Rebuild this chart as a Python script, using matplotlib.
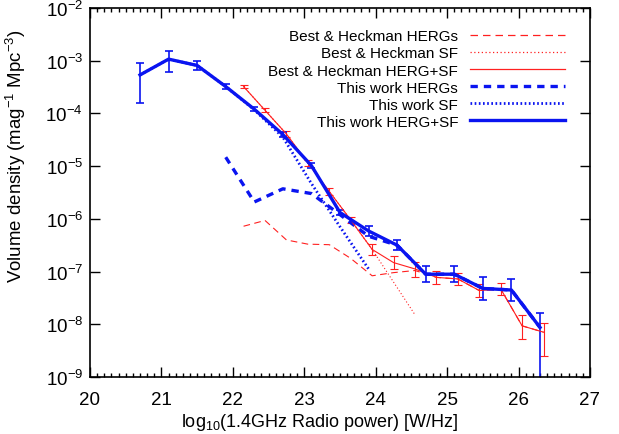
import numpy as np
import matplotlib
matplotlib.use("Agg")
import matplotlib.pyplot as plt
from matplotlib.lines import Line2D

plt.rcParams['font.family'] = ['Liberation Sans', 'DejaVu Sans']
plt.rcParams['mathtext.fontset'] = 'custom'
plt.rcParams['mathtext.rm'] = 'Liberation Sans'
plt.rcParams['mathtext.it'] = 'Liberation Sans'

# --- this work (log10 of density) ---
p_tw = [20.7, 21.1, 21.5, 21.9, 22.3, 22.7, 23.1, 23.5, 23.9, 24.3, 24.7, 25.1, 25.5, 25.9, 26.3]
tw_all = [-3.27, -2.97, -3.09, -3.49, -3.92, -4.40, -4.99, -5.88, -6.23, -6.50, -7.05, -7.05, -7.32, -7.35, -8.06]
tw_up = [0.22, 0.16, 0.09, 0.04, 0.04, 0.04, 0.05, 0.05, 0.10, 0.10, 0.15, 0.15, 0.21, 0.21, 0.27]
tw_dn = [0.54, 0.25, 0.09, 0.04, 0.04, 0.04, 0.05, 0.05, 0.10, 0.10, 0.15, 0.15, 0.21, 0.21, 5.0]

p_tw_herg = [21.9, 22.3, 22.7, 23.1, 23.5, 23.9, 24.3, 24.7, 25.1, 25.5, 25.9, 26.3]
tw_herg = [-4.83, -5.68, -5.43, -5.52, -5.92, -6.33, -6.50, -7.05, -7.05, -7.32, -7.35, -8.06]

p_tw_sf = [20.7, 21.1, 21.5, 21.9, 22.3, 22.7, 23.1, 23.5, 23.9]
tw_sf = [-3.27, -2.97, -3.09, -3.49, -3.93, -4.45, -5.33, -6.15, -6.95]

# --- Best & Heckman ---
p_bh = [22.15, 22.45, 22.75, 23.05, 23.35, 23.65, 23.95, 24.25, 24.55, 24.85, 25.15, 25.45, 25.75, 26.05, 26.35]
bh_all = [-3.49, -3.94, -4.39, -4.94, -5.48, -6.02, -6.58, -6.83, -6.95, -7.11, -7.14, -7.36, -7.33, -8.03, -8.15]
bh_up = [0.03, 0.04, 0.05, 0.05, 0.06, 0.06, 0.10, 0.12, 0.14, 0.12, 0.11, 0.12, 0.12, 0.20, 0.18]
bh_dn = [0.03, 0.04, 0.05, 0.05, 0.06, 0.06, 0.10, 0.13, 0.15, 0.12, 0.11, 0.12, 0.12, 0.24, 0.46]

bh_herg = [-6.14, -6.03, -6.40, -6.48, -6.49, -6.75, -7.08, -7.02, -6.98, -7.11, -7.14, -7.36, -7.33, -8.03, -8.15]

p_bh_sf = [22.15, 22.45, 22.75, 23.05, 23.35, 23.65, 23.95, 24.25, 24.55]
bh_sf = [-3.49, -3.94, -4.39, -4.94, -5.48, -6.02, -6.58, -7.20, -7.82]

labels = ['Best & Heckman HERGs', 'Best & Heckman SF', 'Best & Heckman HERG+SF',
          'This work HERGs', 'This work SF', 'This work HERG+SF']


def lin(logv):
    return 10.0 ** np.array(logv)


def errs(logv, up, dn):
    v = lin(logv)
    lo = v - 10.0 ** (np.array(logv) - np.array(dn))
    hi = 10.0 ** (np.array(logv) + np.array(up)) - v
    return [lo, hi]


fig = plt.figure(figsize=(6.19, 4.35), dpi=100)
ax = fig.add_axes([90 / 619, 1 - 378 / 435, 500 / 619, 369 / 435])

red = '#ff2020'
blue = '#0a14f0'

# line styles: (color, lw, dashes)
styles = [(red, 0.9, (6, 4)), (red, 0.9, (1, 2)), (red, 0.9, None),
          (blue, 2.4, (2.2, 1.8)), (blue, 2.0, (0.6, 0.9)), (blue, 2.4, None)]

ax.plot(p_bh, lin(bh_herg), color=red, lw=0.8, dashes=(6, 4))
ax.plot(p_bh_sf, lin(bh_sf), color=red, lw=0.8, dashes=(1, 2))
ax.errorbar(p_bh, lin(bh_all), yerr=errs(bh_all, bh_up, bh_dn), color=red, lw=0.8,
            elinewidth=0.8, capsize=3, capthick=0.8)

ax.plot(p_tw_herg, lin(tw_herg), color=blue, lw=2.4, dashes=(2.2, 1.8))
ax.plot(p_tw_sf, lin(tw_sf), color=blue, lw=2.0, dashes=(0.6, 0.9))
ax.errorbar(p_tw, lin(tw_all), yerr=errs(tw_all, tw_up, tw_dn), color=blue, lw=2.4,
            elinewidth=1.2, capsize=3, capthick=1.2)

ax.set_yscale('log')
ax.set_xlim(20, 27)
ax.set_ylim(1e-9, 1e-2)
ax.set_xticks(np.arange(20, 28, 1))
ax.set_xticks(np.arange(20, 27.01, 0.1), minor=True)
ax.set_yticks([10.0 ** k for k in range(-9, -1)])
ax.set_yticklabels([r'$10^{%d}$' % k for k in range(-9, -1)])
ax.yaxis.set_minor_locator(matplotlib.ticker.NullLocator())
ax.tick_params(which='both', direction='in', top=True, right=True, labelsize=13.5, width=1)
ax.tick_params(which='major', length=7)
ax.tick_params(which='minor', length=3)
ax.tick_params(axis='x', pad=10)
ax.tick_params(axis='y', pad=5)
for s in ax.spines.values():
    s.set_linewidth(1.2)

ax.set_xlabel(r'log$_{10}$(1.4GHz Radio power) [W/Hz]', fontsize=13)
ax.xaxis.set_label_coords(0.46, -0.093)
ax.set_ylabel(r'Volume density (mag$^{-1}$ Mpc$^{-3}$)', fontsize=13.4)
ax.yaxis.set_label_coords(-0.124, 0.6)

handles = []
for c, w, d in styles:
    if d is None:
        handles.append(Line2D([], [], color=c, lw=w))
    else:
        handles.append(Line2D([], [], color=c, lw=w, dashes=d))
ax.legend(handles, labels, loc='upper right', bbox_to_anchor=(0.95, 0.942), frameon=False,
          markerfirst=False, fontsize=11, handlelength=6.2, labelspacing=0.2,
          handletextpad=0.8, borderpad=0, borderaxespad=0)

fig.savefig('out.png', dpi=100)
